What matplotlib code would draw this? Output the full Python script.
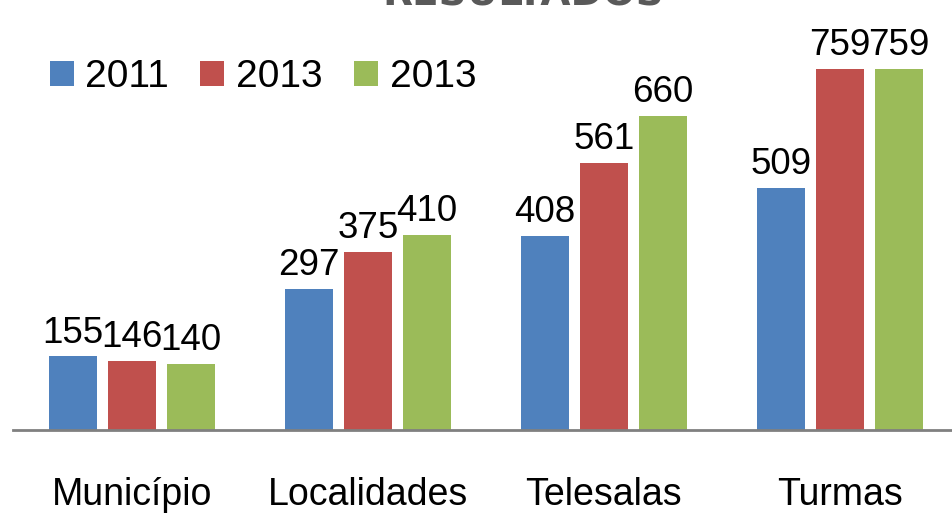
import matplotlib
matplotlib.use('Agg')
import matplotlib.pyplot as plt
import numpy as np

categories = ['Município', 'Localidades', 'Telesalas', 'Turmas']
series_labels = ['2011', '2013', '2013']
vals_2011 = [155, 297, 408, 509]
vals_2013a = [146, 375, 561, 759]
vals_2013b = [140, 410, 660, 759]
colors = ['#4F81BD', '#C0504D', '#9BBB59']

plt.rcParams['font.family'] = ['Liberation Sans', 'DejaVu Sans']

fig = plt.figure(figsize=(9.52, 5.17), dpi=100)
ax = fig.add_axes([0.0137, 0.168, 0.9863, 0.832])

x = np.arange(len(categories))
pitch = 0.25
width = 0.2
for i, (vals, lab, col) in enumerate(zip([vals_2011, vals_2013a, vals_2013b], series_labels, colors)):
    bars = ax.bar(x + (i - 1) * pitch, vals, width, color=col, label=lab)
    for b, v in zip(bars, vals):
        ax.text(b.get_x() + b.get_width() / 2, v + 12, str(v),
                ha='center', va='bottom', fontsize=26.5, color='black')

ax.set_xlim(-0.504, 3.475)
ax.set_ylim(0, 904)
ax.set_xticks(x)
ax.set_xticklabels(categories, fontsize=27)
ax.tick_params(axis='x', length=0, pad=34)
ax.set_yticks([])
for s in ['top', 'right', 'left']:
    ax.spines[s].set_visible(False)
ax.spines['bottom'].set_color('#808080')
ax.spines['bottom'].set_linewidth(2)
ax.patch.set_alpha(0)

ax.legend(loc='upper left', bbox_to_anchor=(0.039, 0.862), ncol=3, frameon=False,
          fontsize=28, handlelength=0.62, handleheight=0.62, handletextpad=0.3,
          columnspacing=0.8, borderaxespad=0, borderpad=0)

fig.text(0.55, 1 - 6 / 517, 'RESULTADOS', ha='center', va='baseline', fontsize=28,
         fontweight='bold', color='#595959', family='DejaVu Sans')

fig.savefig('out.png', dpi=100)
